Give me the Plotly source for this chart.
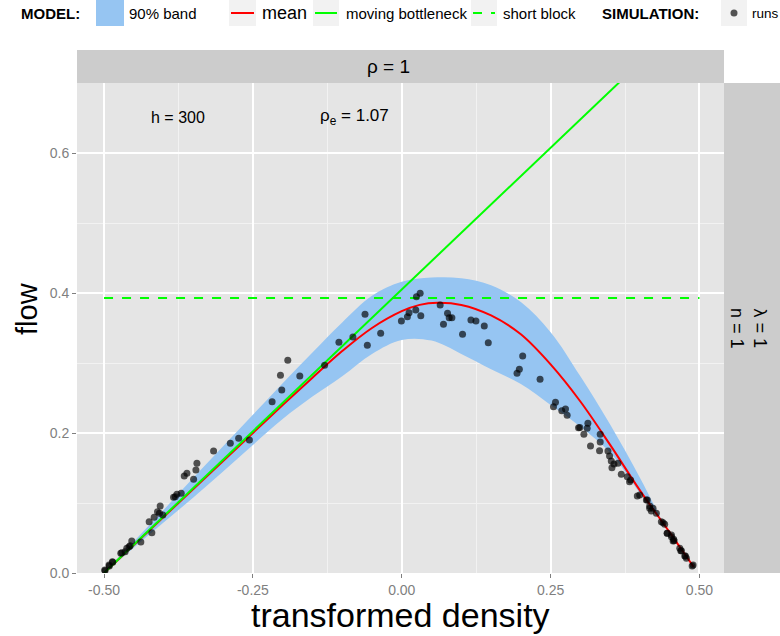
import plotly.graph_objects as go

# ---------------- data ----------------
band_x = [-0.5, -0.45, -0.4, -0.35, -0.3, -0.25, -0.2, -0.15, -0.1, -0.05, 0.0, 0.05, 0.1, 0.15, 0.2, 0.25, 0.3, 0.35, 0.4, 0.44]
band_upper = [0.0, 0.045, 0.09, 0.136, 0.181, 0.226, 0.271, 0.315, 0.358, 0.396, 0.416, 0.422, 0.421, 0.411, 0.387, 0.344, 0.281, 0.212, 0.136, 0.07]
band_lower = [0.0, 0.036, 0.072, 0.108, 0.145, 0.183, 0.22, 0.252, 0.281, 0.313, 0.333, 0.332, 0.313, 0.291, 0.27, 0.24, 0.209, 0.172, 0.114, 0.07]

mean_x = [-0.5, -0.45, -0.4, -0.35, -0.3, -0.25, -0.2, -0.15, -0.1, -0.05, 0.0, 0.03, 0.06, 0.1, 0.15, 0.2, 0.25, 0.3, 0.35, 0.4, 0.45, 0.49]
mean_flow = [0.0, 0.04, 0.08, 0.12, 0.16, 0.2, 0.24, 0.279, 0.317, 0.35, 0.374, 0.383, 0.386, 0.383, 0.368, 0.341, 0.298, 0.245, 0.183, 0.118, 0.058, 0.009]

bottleneck_x = [-0.5, 0.5]
bottleneck_flow = [0.0, 0.81]

short_block_x = [-0.5, 0.5]
short_block_flow = [0.393, 0.393]

runs_x = [
    -0.4983, -0.4911, -0.4854, -0.4702, -0.4646, -0.4618, -0.4562, -0.4534, -0.4382, -0.4197,
    -0.4242, -0.4158, -0.4069, -0.4012, -0.4102, -0.4057, -0.3833, -0.3776, -0.3704, -0.3496,
    -0.3653, -0.3608, -0.3457, -0.344, -0.316, -0.2879, -0.2739, -0.2559, -0.2177, -0.2015,
    -0.2037, -0.1914, -0.1712, -0.1296, -0.1055, -0.082, -0.0578, -0.0617, -0.0354, -0.4988,
    -0.4916, -0.486, -0.4719, -0.4579, -0.3805,
    -0.0006, 0.0095, 0.0123, 0.0236, 0.032, 0.0247, 0.0309, 0.0645, 0.0769, 0.0797,
    0.0842, 0.0701, 0.1162, 0.1246, 0.1386, 0.1021, 0.1453, 0.2031, 0.1975, 0.1936, 0.2323,
    0.2582, 0.2548, 0.2688, 0.275, 0.2778, 0.2969, 0.299, 0.3126, 0.3114, 0.3059,
    0.3333, 0.3333, 0.317, 0.3322, 0.3463, 0.349, 0.3519, 0.3631, 0.3564, 0.353,
    0.3687, 0.3788, 0.3844, 0.3826, 0.3956, 0.3996, 0.4108, 0.4125, 0.4164, 0.4163,
    0.4192, 0.422, 0.4276, 0.436, 0.4389, 0.4416, 0.4456, 0.4461, 0.4529, 0.4529,
    0.4567, 0.4557, 0.4574, 0.4669, 0.4686, 0.4697, 0.4753, 0.4764, 0.4781, 0.4893, 0.4877,
]
runs_flow = [
    0.0033, 0.010, 0.0152, 0.029, 0.0305, 0.0353, 0.039, 0.0457, 0.0443, 0.0576,
    0.0733, 0.0795, 0.0852, 0.0829, 0.0876, 0.0957, 0.1081, 0.1124, 0.1138, 0.1338,
    0.1386, 0.1424, 0.1471, 0.1567, 0.1743, 0.1852, 0.1924, 0.19, 0.2447, 0.2614,
    0.2824, 0.3038, 0.2814, 0.2967, 0.3295, 0.3371, 0.3252, 0.3695, 0.3424, 0.0043,
    0.0114, 0.0162, 0.0281, 0.0376, 0.109,
    0.36, 0.3662, 0.3719, 0.3757, 0.3676, 0.3948, 0.3995, 0.3829, 0.371, 0.3648,
    0.3648, 0.3552, 0.3614, 0.36, 0.3529, 0.341, 0.329, 0.31, 0.291, 0.2852, 0.2767,
    0.2438, 0.2376, 0.2319, 0.2343, 0.2252, 0.2076, 0.208, 0.2138, 0.2067, 0.1981,
    0.1981, 0.1871, 0.1814, 0.1748, 0.1743, 0.1671, 0.16, 0.1567, 0.1557, 0.1505,
    0.141, 0.1376, 0.1329, 0.1305, 0.11, 0.1114, 0.1043, 0.1043, 0.0957, 0.0924,
    0.0886, 0.0924, 0.0852, 0.0733, 0.0719, 0.0695, 0.0567, 0.0567, 0.0543, 0.0519,
    0.0481, 0.0457, 0.0462, 0.0352, 0.0319, 0.0319, 0.0243, 0.0243, 0.021, 0.0114, 0.010,
]

x_ticks = [-0.5, -0.25, 0.0, 0.25, 0.5]
x_tick_labels = ["-0.50", "-0.25", "0.00", "0.25", "0.50"]
y_ticks = [0.0, 0.2, 0.4, 0.6]
y_tick_labels = ["0.0", "0.2", "0.4", "0.6"]

# ---------------- styling ----------------
FONT = "Liberation Sans, Arial, sans-serif"
BAND = "rgb(150,197,242)"
W, H = 780, 636
L, R, T, B = 77, 56, 83, 63
PW, PH = W - L - R, H - T - B


def px_x(px):
    return (px - L) / PW


def px_y(py):
    return (H - B - py) / PH


fig = go.Figure()

fig.add_trace(go.Scatter(
    x=band_x + band_x[::-1], y=band_upper + band_lower[::-1],
    fill="toself", fillcolor=BAND, line=dict(width=0, shape="spline", smoothing=1.0),
    mode="lines", hoverinfo="skip", showlegend=False))

fig.add_trace(go.Scatter(x=mean_x, y=mean_flow, mode="lines",
                         line=dict(color="#FF0000", width=2, shape="spline", smoothing=1.0),
                         showlegend=False))
fig.add_trace(go.Scatter(x=bottleneck_x, y=bottleneck_flow, mode="lines",
                         line=dict(color="#00FF00", width=2), showlegend=False))
fig.add_trace(go.Scatter(x=short_block_x, y=short_block_flow, mode="lines",
                         line=dict(color="#00FF00", width=2, dash="dash"), showlegend=False))
fig.add_trace(go.Scatter(x=runs_x, y=runs_flow, mode="markers",
                         marker=dict(color="rgba(0,0,0,0.66)", size=7, line=dict(width=0)),
                         showlegend=False))

shapes = []
# strips
shapes.append(dict(type="rect", xref="paper", yref="paper", x0=0, x1=1, y0=1, y1=px_y(50),
                   fillcolor="#CCCCCC", line=dict(width=0)))
shapes.append(dict(type="rect", xref="paper", yref="paper", x0=1, x1=px_x(780), y0=0, y1=1,
                   fillcolor="#CCCCCC", line=dict(width=0)))
# legend keys
ky0, ky1, kc = px_y(26), px_y(0), px_y(13)
shapes.append(dict(type="rect", xref="paper", yref="paper", x0=px_x(96), x1=px_x(124), y0=ky0, y1=ky1,
                   fillcolor=BAND, line=dict(width=0)))
for (a, b) in [(229, 256), (313, 339), (471, 497), (721, 747)]:
    shapes.append(dict(type="rect", xref="paper", yref="paper", x0=px_x(a), x1=px_x(b), y0=ky0, y1=ky1,
                       fillcolor="#F2F2F2", line=dict(width=0)))
shapes.append(dict(type="line", xref="paper", yref="paper", x0=px_x(231), x1=px_x(254), y0=kc, y1=kc,
                   line=dict(color="#FF0000", width=2)))
shapes.append(dict(type="line", xref="paper", yref="paper", x0=px_x(315), x1=px_x(337), y0=kc, y1=kc,
                   line=dict(color="#00FF00", width=2)))
shapes.append(dict(type="line", xref="paper", yref="paper", x0=px_x(473), x1=px_x(495), y0=kc, y1=kc,
                   line=dict(color="#00FF00", width=2, dash="dash")))
shapes.append(dict(type="circle", xref="paper", yref="paper", x0=px_x(730.5), x1=px_x(737.5),
                   y0=px_y(16.5), y1=px_y(9.5), fillcolor="rgba(0,0,0,0.66)", line=dict(width=0)))

ann = []


def text(x, y, s, size=15, bold=False, xanchor="left", angle=0, xref="paper", yref="paper", color="black"):
    ann.append(dict(x=x, y=y, xref=xref, yref=yref, text=("<b>%s</b>" % s) if bold else s,
                    showarrow=False, xanchor=xanchor, yanchor="middle", textangle=angle,
                    font=dict(family=FONT, size=size, color=color)))


text(px_x(19), kc, "MODEL:", bold=True)
text(px_x(127), kc, "90% band")
text(px_x(260), kc, "mean", size=18)
text(px_x(344), kc, "moving bottleneck")
text(px_x(501), kc, "short block")
text(px_x(600), kc, "SIMULATION:", bold=True)
text(px_x(750), kc, "runs", size=13.5)
text(px_x(388), px_y(66.5), "ρ = 1", size=19, xanchor="center")
text(px_x(749), 0.5, "λ = 1<br>n = 1", size=18, xanchor="center", angle=90)
text(-0.375, 0.651, "h = 300", size=16, xanchor="center", xref="x", yref="y")
text(-0.08, 0.651, "ρ<sub>e</sub> = 1.07", size=17, xanchor="center", xref="x", yref="y")
text(px_x(400), px_y(615), "transformed density", size=34, xanchor="center")
text(px_x(27), px_y(309), "flow", size=29, xanchor="center", angle=-90)

axis_common = dict(showline=False, zeroline=False, ticks="outside", ticklen=4, tickwidth=1,
                   tickcolor="#7F7F7F", tickfont=dict(family=FONT, size=14, color="#7F7F7F"),
                   gridcolor="#FFFFFF", gridwidth=1.6)

fig.update_layout(
    width=W, height=H, margin=dict(l=L, r=R, t=T, b=B, pad=0),
    paper_bgcolor="white", plot_bgcolor="#E5E5E5",
    xaxis=dict(range=[-0.5454, 0.5412], tickvals=x_ticks, ticktext=x_tick_labels,
               minor=dict(tickvals=[-0.375, -0.125, 0.125, 0.375], showgrid=True,
                          gridcolor="#F2F2F2", gridwidth=0.8, ticks=""),
               **axis_common),
    yaxis=dict(range=[0, 0.7], tickvals=y_ticks, ticktext=y_tick_labels,
               minor=dict(tickvals=[0.1, 0.3, 0.5], showgrid=True,
                          gridcolor="#F2F2F2", gridwidth=0.8, ticks=""),
               **axis_common),
    shapes=shapes, annotations=ann, showlegend=False,
)

fig.write_html("out.html")
